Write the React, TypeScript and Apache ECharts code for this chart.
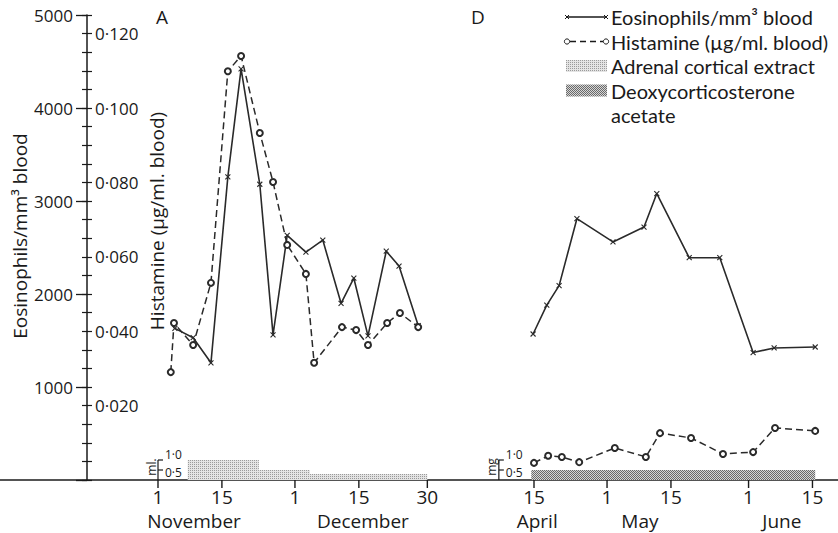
import React, { useEffect, useRef } from 'react';
import * as echarts from 'echarts';

// ---------------- data ----------------
// Panel A (November–December): day counted from 1 November (1 December = day 31)
const eosDaysA = [4.7, 8.7, 12.6, 16.3, 19.2, 23.3, 26.2, 29.3, 33.4, 37.1, 41.1, 43.9, 47.0, 51.0, 53.8, 58.0];
const eosValuesA = [1630, 1530, 1260, 3260, 4420, 3180, 1560, 2630, 2450, 2580, 1900, 2170, 1550, 2460, 2300, 1660];
const histDaysA = [3.8, 4.5, 8.7, 12.6, 16.3, 19.2, 23.3, 26.2, 29.3, 33.4, 35.2, 41.3, 44.4, 47.0, 51.2, 54.0, 58.0];
const histValuesA = [0.029, 0.0422, 0.0363, 0.053, 0.1099, 0.114, 0.0933, 0.0801, 0.0632, 0.0554, 0.0315, 0.0411, 0.0403, 0.0363, 0.0422, 0.0449, 0.0411];

// Panel D (April–June): day counted from 1 April (1 May = day 31, 1 June = day 62)
const eosDaysD = [14.8, 17.8, 20.5, 24.4, 32.3, 39.1, 41.9, 49.0, 55.7, 63.0, 67.6, 76.6];
const eosValuesD = [1570, 1880, 2090, 2810, 2560, 2720, 3080, 2390, 2390, 1370, 1420, 1430];
const histDaysD = [15.0, 18.1, 21.1, 24.9, 32.7, 39.5, 42.6, 49.4, 56.4, 63.0, 67.8, 76.6];
const histValuesD = [0.0046, 0.0065, 0.0062, 0.0048, 0.0086, 0.0062, 0.0126, 0.0113, 0.007, 0.0075, 0.014, 0.0132];

// Treatments
const adrenalStartA = [7.5, 23.1, 34.3];
const adrenalEndA = [23.1, 34.3, 60];
const adrenalDoseMl = [1.0, 0.5, 0.3];
const docaStartD = [14.4];
const docaEndD = [76.6];
const docaDoseMg = [0.5];

// Dose mini-scales
const doseScaleTicks = [0.5, 1.0];
const doseScaleLabels = ['0·5', '1·0'];
const doseScaleDayA = 1;
const doseScaleDayD = 7.3;
const doseUnitA = 'ml.';
const doseUnitD = 'mg';

// X tick labels
const tickDaysA = [1, 15, 31, 45, 60];
const tickLabelsA = ['1', '15', '1', '15', '30'];
const tickDaysD = [15, 31, 45, 62, 76];
const tickLabelsD = ['15', '1', '15', '1', '15'];
const monthNamesA = ['November', 'December'];
const monthDaysA = [8.9, 45.9];
const monthNamesD = ['April', 'May', 'June'];
const monthDaysD = [15.7, 38.2, 69.3];

// Y axes
const eosMax = 5000;
const eosStep = 1000;
const histMax = 0.125;
const histStep = 0.005;
const histLabelStep = 0.02;

// Legend
const legendNames = ['Eosinophils/mm³ blood', 'Histamine (µg/ml. blood)', 'Adrenal cortical extract', 'Deoxycorticosterone', 'acetate'];

// ---------------- layout ----------------
const W = 838;
const H = 533;
const FONT = "'Open Sans', 'DejaVu Sans', sans-serif";
const LEGEND_FONT = "Lato, 'Open Sans', sans-serif";
const INK = '#1a1a1a';
const PX_PER_DAY = 4.565;
const NOV1_PX = 158;
const APR15_PX = 534;
const AXIS_X = 87;
const GRID_TOP = 15;
const GRID_BOTTOM = 53;
const DOSE_PX_PER_UNIT = 20;
const SHIFT_D = (APR15_PX - NOV1_PX) / PX_PER_DAY + 1 - 15;
const X_MIN = 1 - NOV1_PX / PX_PER_DAY;
const X_MAX = X_MIN + W / PX_PER_DAY;
const DOSE_MAX = (H - GRID_TOP - GRID_BOTTOM) / DOSE_PX_PER_UNIT;

function makePattern(kind: string): any {
  const c = document.createElement('canvas');
  const ctx = c.getContext('2d') as CanvasRenderingContext2D;
  c.width = 2; c.height = 2;
  if (kind === 'adrenal') {
    ctx.fillStyle = '#e4e4e4'; ctx.fillRect(0, 0, 2, 2);
    ctx.fillStyle = '#9a9a9a'; ctx.fillRect(0, 0, 1, 1);
  } else {
    ctx.fillStyle = '#d6d6d6'; ctx.fillRect(0, 0, 2, 2);
    ctx.fillStyle = '#6a6a6a'; ctx.fillRect(0, 0, 1, 1); ctx.fillRect(1, 1, 1, 1);
  }
  return { image: c, repeat: 'repeat' };
}

export default function App() {
  const ref = useRef<HTMLDivElement>(null);
  useEffect(() => {
    if (!ref.current) return;
    const chart = echarts.init(ref.current, undefined, { renderer: 'svg' });
    const adrenalFill = makePattern('adrenal');
    const docaFill = makePattern('doca');

    const pairs = (xs: number[], ys: number[], shift = 0) => xs.map((x, i) => [x + shift, ys[i]]);

    const xMarker = 'path://M0,0L10,10M10,0L0,10';

    const doseData = [
      ...adrenalStartA.map((s, i) => [s, adrenalEndA[i], adrenalDoseMl[i], 0]),
      ...docaStartD.map((s, i) => [s + SHIFT_D, docaEndD[i] + SHIFT_D, docaDoseMg[i], 1]),
    ];

    const tickX = [...tickDaysA, ...tickDaysD.map((d) => d + SHIFT_D)];
    const tickText = [...tickLabelsA, ...tickLabelsD];
    const monthX = [...monthDaysA, ...monthDaysD.map((d) => d + SHIFT_D)];
    const monthText = [...monthNamesA, ...monthNamesD];
    const scaleX = [doseScaleDayA, doseScaleDayD + SHIFT_D];
    const scaleUnit = [doseUnitA, doseUnitD];

    const textStyle = (text: string, x: number, y: number, size: number, align = 'center', family = FONT) => ({
      text, x, y, fill: INK, font: `${size}px ${family}`, align, verticalAlign: 'middle',
    });

    const LINE_H = 24.5;
    const legendY = legendNames.map((_, i) => 17 + i * LINE_H);
    const LX0 = 567, LX1 = 606, LT = 611;
    const xMark = (cx: number, cy: number) => [
      { type: 'line', shape: { x1: cx - 2, y1: cy - 2, x2: cx + 2, y2: cy + 2 }, style: { stroke: INK, lineWidth: 1 } },
      { type: 'line', shape: { x1: cx + 2, y1: cy - 2, x2: cx - 2, y2: cy + 2 }, style: { stroke: INK, lineWidth: 1 } },
    ];

    const graphic: any[] = [
      { type: 'text', x: 20, y: 236, rotation: Math.PI / 2, style: textStyle('Eosinophils/mm³ blood', 0, 0, 19) },
      { type: 'text', x: 157, y: 221, rotation: Math.PI / 2, style: textStyle('Histamine (µg/ml. blood)', 0, 0, 19) },
      { type: 'text', style: textStyle('A', 162, 17, 19) },
      { type: 'text', style: textStyle('D', 478, 17, 19) },
      // legend
      { type: 'line', shape: { x1: LX0, y1: legendY[0], x2: LX1, y2: legendY[0] }, style: { stroke: INK, lineWidth: 1.4 } },
      ...xMark(LX0, legendY[0]),
      ...xMark(LX1, legendY[0]),
      { type: 'line', shape: { x1: LX0 + 3, y1: legendY[1], x2: LX1 - 3, y2: legendY[1] }, style: { stroke: INK, lineWidth: 1.4, lineDash: [6, 4] } },
      { type: 'circle', shape: { cx: LX0, cy: legendY[1], r: 2.6 }, style: { stroke: INK, fill: '#fff', lineWidth: 1 } },
      { type: 'circle', shape: { cx: LX1, cy: legendY[1], r: 2.6 }, style: { stroke: INK, fill: '#fff', lineWidth: 1 } },
      { type: 'rect', shape: { x: LX0 - 1, y: legendY[2] - 6, width: LX1 - LX0 + 2, height: 12 }, style: { fill: adrenalFill } },
      { type: 'rect', shape: { x: LX0 - 1, y: legendY[3] - 6, width: LX1 - LX0 + 2, height: 12 }, style: { fill: docaFill } },
      ...legendNames.map((n, i) => ({ type: 'text', style: textStyle(n, LT, legendY[i], 20, 'left', LEGEND_FONT) })),
    ];

    const option: any = {
      animation: false,
      backgroundColor: '#ffffff',
      textStyle: { fontFamily: FONT },
      grid: { left: 0, right: 0, top: GRID_TOP, bottom: GRID_BOTTOM, containLabel: false },
      xAxis: {
        type: 'value', min: X_MIN, max: X_MAX,
        axisLine: { show: true, onZero: false, lineStyle: { color: INK, width: 1.5 } },
        axisTick: { show: false }, axisLabel: { show: false }, splitLine: { show: false },
      },
      yAxis: [
        {
          type: 'value', min: 0, max: eosMax, interval: eosStep, position: 'left', offset: -AXIS_X,
          axisLine: { show: true, onZero: false, lineStyle: { color: INK, width: 1.5 } },
          axisTick: { show: true, inside: false, length: 11, lineStyle: { color: INK, width: 1.3 } },
          axisLabel: { show: true, margin: 14, color: INK, fontSize: 17, fontFamily: FONT, formatter: (v: number) => (v === 0 ? '' : String(v)) },
          splitLine: { show: false },
        },
        {
          type: 'value', min: 0, max: histMax, interval: histStep, position: 'left', offset: -AXIS_X,
          axisLine: { show: false, onZero: false },
          axisTick: { show: true, inside: true, length: 5, lineStyle: { color: INK, width: 1.2 } },
          axisLabel: {
            show: true, inside: true, margin: 8, color: INK, fontSize: 17, fontFamily: FONT,
            formatter: (v: number) => {
              const k = Math.round(v * 1000);
              if (k === 0 || k % Math.round(histLabelStep * 1000) !== 0) return '';
              return (k / 1000).toFixed(3).replace('.', '·');
            },
          },
          splitLine: { show: false },
        },
        {
          type: 'value', min: 0, max: histMax, interval: histStep, position: 'left', offset: -AXIS_X,
          axisLine: { show: false, onZero: false },
          axisTick: { show: true, inside: false, length: 5, lineStyle: { color: INK, width: 1.2 } },
          axisLabel: { show: false },
          splitLine: { show: false },
        },
        { type: 'value', min: 0, max: DOSE_MAX, show: false, splitLine: { show: false } },
      ],
      series: [
        {
          type: 'custom', name: 'doses', xAxisIndex: 0, yAxisIndex: 3, clip: false, z: 1,
          data: doseData,
          renderItem: (params: any, api: any) => {
            const p0 = api.coord([api.value(0), api.value(2)]);
            const p1 = api.coord([api.value(1), 0]);
            return {
              type: 'rect',
              shape: { x: p0[0], y: p0[1], width: p1[0] - p0[0], height: p1[1] - p0[1] },
              style: { fill: api.value(3) === 0 ? adrenalFill : docaFill },
            };
          },
        },
        {
          type: 'custom', name: 'doseScale', xAxisIndex: 0, yAxisIndex: 3, clip: false, z: 3,
          data: scaleX.map((x) => [x, 0]),
          renderItem: (params: any, api: any) => {
            const x = api.value(0);
            const base = api.coord([x, 0]);
            const children: any[] = [];
            const top = api.coord([x, doseScaleTicks[doseScaleTicks.length - 1]]);
            children.push({ type: 'line', shape: { x1: base[0], y1: base[1], x2: top[0], y2: top[1] }, style: { stroke: INK, lineWidth: 1.2 } });
            doseScaleTicks.forEach((t, i) => {
              const p = api.coord([x, t]);
              children.push({ type: 'line', shape: { x1: p[0], y1: p[1], x2: p[0] + 5, y2: p[1] }, style: { stroke: INK, lineWidth: 1.2 } });
              children.push({ type: 'text', style: textStyle(doseScaleLabels[i], p[0] + 7, p[1] + (t === 1 ? -6 : 2), 12, 'left') });
            });
            const mid = api.coord([x, 0.75]);
            children.push({ type: 'text', x: mid[0] - 7, y: mid[1] + 2, rotation: Math.PI / 2, style: textStyle(scaleUnit[params.dataIndex], 0, 0, 12) });
            return { type: 'group', children };
          },
        },
        {
          type: 'line', name: 'eosA', yAxisIndex: 0, z: 4,
          data: pairs(eosDaysA, eosValuesA),
          symbol: xMarker, symbolSize: 5, showSymbol: true,
          lineStyle: { color: '#2a2a2a', width: 1.6 },
          itemStyle: { color: '#2a2a2a', borderColor: '#2a2a2a', borderWidth: 1.1 },
        },
        {
          type: 'line', name: 'eosD', yAxisIndex: 0, z: 4,
          data: pairs(eosDaysD, eosValuesD, SHIFT_D),
          symbol: xMarker, symbolSize: 5, showSymbol: true,
          lineStyle: { color: '#2a2a2a', width: 1.6 },
          itemStyle: { color: '#2a2a2a', borderColor: '#2a2a2a', borderWidth: 1.1 },
        },
        {
          type: 'line', name: 'histA', yAxisIndex: 1, z: 5,
          data: pairs(histDaysA, histValuesA),
          symbol: 'emptyCircle', symbolSize: 6, showSymbol: true,
          lineStyle: { color: '#2a2a2a', width: 1.5, type: [7, 4] },
          itemStyle: { color: '#2a2a2a', borderColor: '#2a2a2a', borderWidth: 1 },
        },
        {
          type: 'line', name: 'histD', yAxisIndex: 1, z: 5,
          data: pairs(histDaysD, histValuesD, SHIFT_D),
          symbol: 'emptyCircle', symbolSize: 6, showSymbol: true,
          lineStyle: { color: '#2a2a2a', width: 1.5, type: [7, 4] },
          itemStyle: { color: '#2a2a2a', borderColor: '#2a2a2a', borderWidth: 1 },
        },
        {
          type: 'custom', name: 'xTicks', xAxisIndex: 0, yAxisIndex: 0, clip: false, z: 6,
          data: tickX.map((x) => [x, 0]),
          renderItem: (params: any, api: any) => {
            const p = api.coord([api.value(0), 0]);
            return {
              type: 'group',
              children: [
                { type: 'line', shape: { x1: p[0], y1: p[1], x2: p[0], y2: p[1] + 8 }, style: { stroke: INK, lineWidth: 1.4 } },
                { type: 'text', style: textStyle(tickText[params.dataIndex], p[0], p[1] + 17, 19) },
              ],
            };
          },
        },
        {
          type: 'custom', name: 'months', xAxisIndex: 0, yAxisIndex: 0, clip: false, z: 6,
          data: monthX.map((x) => [x, 0]),
          renderItem: (params: any, api: any) => {
            const p = api.coord([api.value(0), 0]);
            return { type: 'text', style: textStyle(monthText[params.dataIndex], p[0], p[1] + 41, 19) };
          },
        },
      ],
      graphic: { elements: graphic },
    };
    chart.setOption(option);
    return () => chart.dispose();
  }, []);
  return <div ref={ref} style={{ position: 'fixed', left: 0, top: 0, width: W, height: H, background: '#fff' }} />;
}
